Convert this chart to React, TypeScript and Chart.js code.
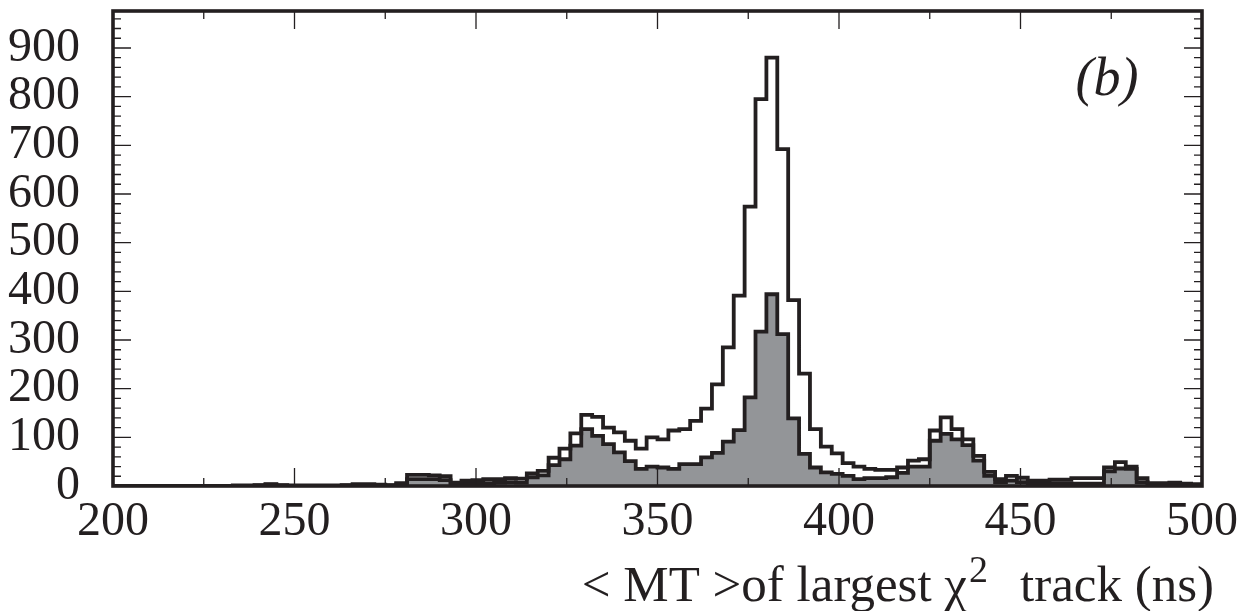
import React, { useEffect, useRef } from 'react';
import { Chart, registerables } from 'chart.js';

Chart.register(...registerables);

// Histogram binning (ns)
const X_MIN = 200;
const X_MAX = 500;
const BIN_WIDTH = 3;

const xTickLabels = ['200', '250', '300', '350', '400', '450', '500'];
const yTickLabels = ['0', '100', '200', '300', '400', '500', '600', '700', '800', '900'];

// All events (open histogram), 100 bins of 3 ns from 200 to 500
const totalCounts = [
  0, 0, 0, 0, 0, 0, 0, 0, 0, 0,
  0, 1, 1, 2, 4, 2, 1, 1, 1, 1,
  1, 2, 4, 4, 3, 2, 6, 23, 23, 22,
  20, 7, 11, 12, 14, 14, 16, 15, 26, 31,
  58, 77, 108, 146, 142, 120, 110, 93, 77, 100,
  96, 114, 117, 134, 159, 209, 285, 391, 574, 795,
  880, 692, 382, 231, 117, 81, 67, 47, 40, 35,
  33, 33, 38, 52, 55, 114, 141, 117, 96, 62,
  29, 14, 21, 17, 11, 11, 13, 13, 16, 16,
  16, 38, 49, 40, 16, 6, 6, 7, 5, 4,
];

// Selected events (grey filled histogram)
const selectedCounts = [
  0, 0, 0, 0, 0, 0, 0, 0, 0, 0,
  0, 0, 0, 1, 3, 1, 0, 0, 0, 0,
  0, 1, 2, 2, 2, 1, 3, 14, 14, 14,
  12, 4, 5, 6, 6, 7, 8, 7, 18, 22,
  43, 55, 83, 117, 103, 86, 69, 51, 35, 40,
  38, 35, 45, 45, 59, 68, 91, 115, 182, 317,
  394, 312, 139, 66, 38, 28, 25, 21, 14, 16,
  16, 18, 27, 40, 40, 93, 107, 96, 84, 52,
  21, 8, 11, 8, 6, 6, 6, 6, 5, 5,
  5, 30, 36, 35, 8, 4, 4, 4, 3, 2,
];

const INK = '#231f20';
const GREY = '#939598';
const FONT = '"Liberation Serif", "Times New Roman", serif';

function toSteps(counts: number[]) {
  const pts = counts.map((v, i) => ({ x: X_MIN + i * BIN_WIDTH, y: v }));
  pts.push({ x: X_MAX, y: counts[counts.length - 1] });
  return pts;
}

const framePlugin = {
  id: 'frameAndLabels',
  afterDraw(chart: any) {
    const { ctx, chartArea, scales } = chart;
    const { left, right, top, bottom } = chartArea;
    const xs = scales.x;
    const ys = scales.y;
    ctx.save();
    ctx.strokeStyle = INK;
    ctx.lineWidth = 1.3;
    ctx.beginPath();
    for (const t of xs.ticks) {
      const px = xs.getPixelForValue(t.value);
      const len = xTickLabels.includes(String(t.value)) ? 18 : 8;
      ctx.moveTo(px, bottom);
      ctx.lineTo(px, bottom - len);
      ctx.moveTo(px, top);
      ctx.lineTo(px, top + len);
    }
    for (const t of ys.ticks) {
      const py = ys.getPixelForValue(t.value);
      const len = yTickLabels.includes(String(t.value)) ? 18 : 8;
      ctx.moveTo(left, py);
      ctx.lineTo(left + len, py);
      ctx.moveTo(right, py);
      ctx.lineTo(right - len, py);
    }
    ctx.stroke();

    ctx.lineWidth = 3.6;
    ctx.strokeRect(left, top, right - left, bottom - top);

    // panel label
    ctx.fillStyle = INK;
    ctx.font = `italic 54px ${FONT}`;
    ctx.textAlign = 'center';
    ctx.textBaseline = 'middle';
    ctx.fillText('(b)', right - 95, top + 70);

    // axis title with superscript
    const mainFont = `51px ${FONT}`;
    const supFont = `38px ${FONT}`;
    const part1 = '< MT >of largest \u03c7';
    const sup = '2';
    const part2 = 'track (ns)';
    const gap = 34;
    ctx.font = mainFont;
    const w1 = ctx.measureText(part1).width;
    const w3 = ctx.measureText(part2).width;
    ctx.font = supFont;
    const w2 = ctx.measureText(sup).width;
    const total = w1 + w2 + gap + w3;
    const baseline = 601;
    let x0 = right + 12 - total;
    ctx.textAlign = 'left';
    ctx.textBaseline = 'alphabetic';
    ctx.font = mainFont;
    ctx.fillText(part1, x0, baseline);
    x0 += w1;
    ctx.font = supFont;
    ctx.fillText(sup, x0 + 2, baseline - 19);
    x0 += w2 + gap;
    ctx.font = mainFont;
    ctx.fillText(part2, x0, baseline);
    ctx.restore();
  },
};

export default function App() {
  const canvasRef = useRef<HTMLCanvasElement | null>(null);

  useEffect(() => {
    if (!canvasRef.current) return;
    const chart = new Chart(canvasRef.current, {
      type: 'line',
      data: {
        datasets: [
          {
            label: 'All',
            data: toSteps(totalCounts),
            stepped: 'before',
            borderColor: INK,
            borderWidth: 3.8,
            pointRadius: 0,
            fill: false,
            borderJoinStyle: 'miter',
          },
          {
            label: 'Selected',
            data: toSteps(selectedCounts),
            stepped: 'before',
            borderColor: INK,
            borderWidth: 3.8,
            backgroundColor: GREY,
            pointRadius: 0,
            fill: 'origin',
            borderJoinStyle: 'miter',
          },
        ],
      },
      options: {
        responsive: false,
        animation: false,
        events: [],
        layout: { padding: { top: 11, right: 54, left: 0, bottom: 0 } },
        plugins: {
          legend: { display: false },
          tooltip: { enabled: false },
          title: { display: false },
        },
        scales: {
          x: {
            type: 'linear',
            min: X_MIN,
            max: X_MAX,
            grid: { display: false },
            border: { display: false },
            ticks: {
              stepSize: 25,
              autoSkip: false,
              maxRotation: 0,
              includeBounds: false,
              padding: 0,
              color: INK,
              font: { family: FONT, size: 48 },
              callback: (v: any) => (xTickLabels.includes(String(v)) ? String(v) : ''),
            },
            afterFit: (s: any) => {
              s.height = 125;
              s.paddingLeft = 0;
              s.paddingRight = 0;
            },
          },
          y: {
            type: 'linear',
            min: 0,
            max: 976,
            grid: { display: false },
            border: { display: false },
            ticks: {
              stepSize: 20,
              autoSkip: false,
              includeBounds: false,
              padding: 25,
              color: INK,
              font: { family: FONT, size: 48 },
              callback: (v: any) => (yTickLabels.includes(String(v)) ? String(v) : ''),
            },
            afterFit: (s: any) => {
              s.width = 113;
              s.paddingTop = 0;
              s.paddingBottom = 0;
            },
          },
        },
      },
      plugins: [framePlugin],
    });
    return () => chart.destroy();
  }, []);

  return (
    <div style={{ position: 'absolute', left: 0, top: 0, width: 1256, height: 611, background: '#fff' }}>
      <canvas ref={canvasRef} width={1256} height={611} />
    </div>
  );
}
